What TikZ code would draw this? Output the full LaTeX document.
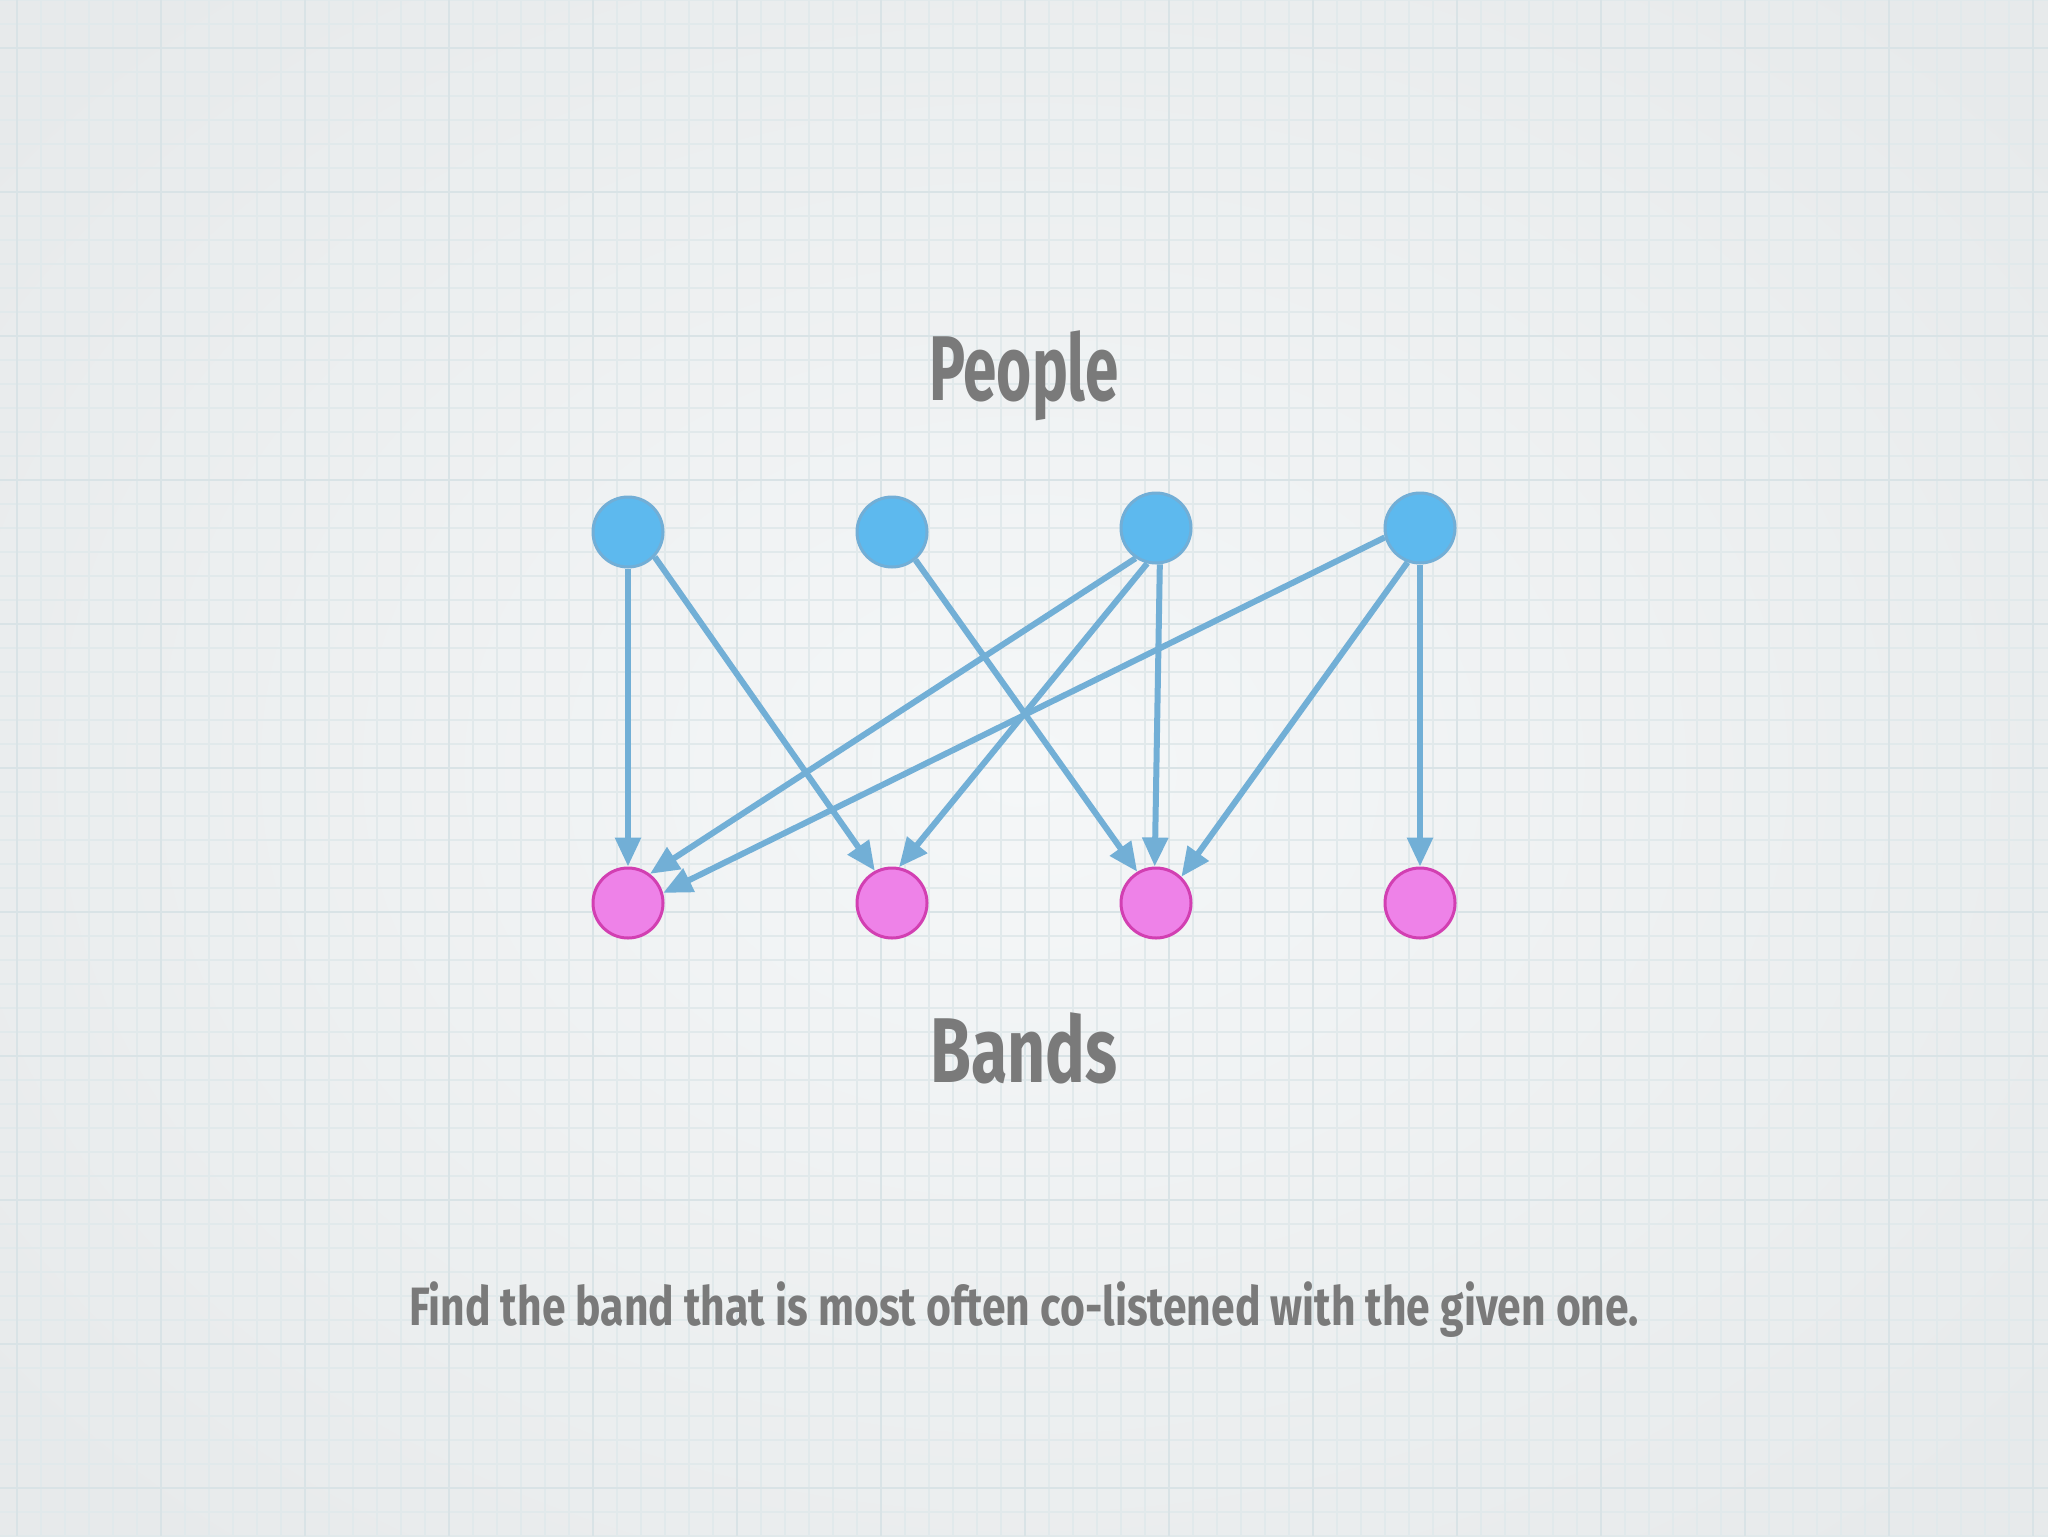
\documentclass[tikz,border=0pt]{standalone}
\usepackage{fontspec}
\usetikzlibrary{arrows.meta}
\newfontfamily\handfont[FakeStretch=0.72]{Fira Sans}
\newfontfamily\capfont[FakeStretch=0.79]{Fira Sans}
\definecolor{bgin}{HTML}{F5F7F8}
\definecolor{bgout}{HTML}{E7EAEB}
\definecolor{gridminor}{HTML}{E1E9EB}
\definecolor{gridmajor}{HTML}{D9E3E6}
\definecolor{pfill}{HTML}{5DB9EE}
\definecolor{pline}{HTML}{72AED6}
\definecolor{bfill}{HTML}{EE82E8}
\definecolor{bline}{HTML}{D23FB2}
\definecolor{edgec}{HTML}{72AFD6}
\definecolor{txtc}{HTML}{7A7A7A}
\tikzset{
  person/.style={circle,inner sep=0pt,minimum size=35pt,line width=1.5pt,draw=pline,fill=pfill},
  band/.style={circle,inner sep=0pt,minimum size=35pt,line width=1.5pt,draw=bline,fill=bfill},
  link/.style={draw=edgec,line width=3pt,-{Triangle[length=14.5pt,width=12.5pt]}},
  title/.style={text=txtc,font=\handfont\bfseries\fontsize{46}{50}\selectfont,inner sep=0pt,anchor=base},
  caption/.style={text=txtc,font=\capfont\bfseries\fontsize{27}{30}\selectfont,inner sep=0pt,anchor=base}
}
\begin{document}
\begin{tikzpicture}[x=0.5pt,y=-0.5pt]
\useasboundingbox (0,0) rectangle (2048,1536);
\fill[bgout] (0,0) rectangle (2048,1536);
\shade[inner color=bgin,outer color=bgout] (-300,-250) rectangle (2348,1786);
\foreach \i in {0,...,85} {\draw[gridminor,line width=0.8pt] (16.7+24*\i,0) -- (16.7+24*\i,1536);}
\foreach \i in {0,...,64} {\draw[gridminor,line width=0.8pt] (0,24*\i) -- (2048,24*\i);}
\foreach \i in {0,...,14} {\draw[gridmajor,line width=1.1pt] (16.7+144*\i,0) -- (16.7+144*\i,1536);}
\foreach \i in {0,...,10} {\draw[gridmajor,line width=1.1pt] (0,48+144*\i) -- (2048,48+144*\i);}

\node[title] (people) at (1024,400) {\scalebox{0.91}[1]{People}};
\node[title] (bands) at (1024,1082) {Bands};
\node[caption] (cap) at (1024,1325) {Find the band that is most often co-listened with the given one.};

\node[person] (t1) at (628,532) {};
\node[person] (t2) at (892,532) {};
\node[person] (t3) at (1156,528) {};
\node[person] (t4) at (1420,528) {};
\node[band] (b1) at (628,903) {};
\node[band] (b2) at (892,903) {};
\node[band] (b3) at (1156,903) {};
\node[band] (b4) at (1420,903) {};

\path[link] (t1.270) -- (b1.90);
\path[link] (t1.317) -- (b2.118);
\path[link] (t2.310) -- (b3.121);
\path[link] (t3.236) -- (b1.53);
\path[link] (t3.256) -- (b2.79);
\path[link] (t3.276) -- (b3.92);
\path[link] (t4.195) -- (b1.16);
\path[link] (t4.250) -- (b3.46);
\path[link] (t4.270) -- (b4.90);
\end{tikzpicture}
\end{document}
